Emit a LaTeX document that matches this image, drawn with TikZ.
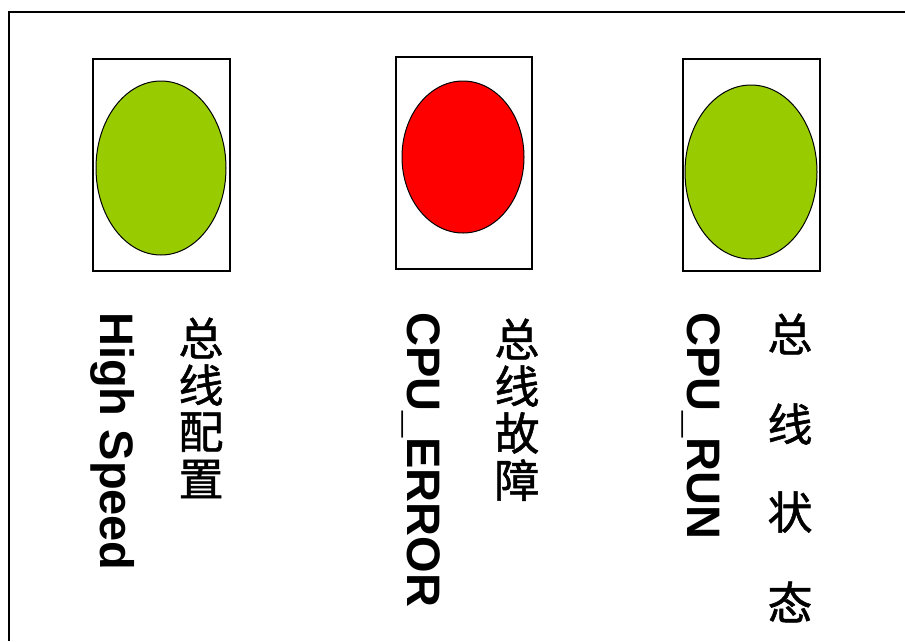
\documentclass[tikz,border=0pt]{standalone}
\usepackage{fontspec}
\setmainfont{Liberation Sans}
\newfontfamily\cjk[FakeBold=1.2]{Noto Sans CJK SC}
\usetikzlibrary{shapes.geometric}
\usetikzlibrary{positioning}
\definecolor{ledgreen}{HTML}{99CC00}
\definecolor{ledred}{HTML}{FF0000}
\tikzset{ledbox/.style={draw, line width=1.6pt, minimum width=137pt, minimum height=212pt, inner sep=0pt},
	led/.style={ellipse, draw, line width=1pt, inner sep=0pt},
	tag/.style={rotate=-90, anchor=base west, inner sep=0pt, font=\bfseries\fontsize{47}{47}\selectfont},
	hanzi/.style={inner sep=0pt, font=\cjk\fontsize{45}{45}\selectfont}}

\begin{document}
\begin{tikzpicture}[x=1pt, y=-1pt]
	\useasboundingbox (0, 0) rectangle (905, 641);
	\draw [line width=1.4pt] (9, 641) -- (9, 12) -- (905, 12);
	% lamps
	\node [ledbox] (box1) at (161.5, 165) {};
	\node [ledbox, minimum width=136pt] (box2) at (464, 163) {};
	\node [ledbox] (box3) at (751.5, 165) {};
	\node [led, fill=ledgreen, minimum width=130pt, minimum height=174pt] (lamp1) at (161, 168) {};
	\node [led, fill=ledred, minimum width=122pt, minimum height=152pt] (lamp2) at (463, 157) {};
	\node [led, fill=ledgreen, minimum width=132pt, minimum height=174pt] (lamp3) at (751, 172) {};
	% labels
	\node [tag] (speed) at (100, 312) {High Speed};
	\node [tag] (error) at (407, 312) {CPU\_ERROR};
	\node [tag] (run) at (687, 312) {CPU\_RUN};
	\node [hanzi] (a1) at (201, 338) {总};
	\node [hanzi] (a2) at (201, 385) {线};
	\node [hanzi] (a3) at (201, 432) {配};
	\node [hanzi] (a4) at (201, 479) {置};
	\node [hanzi] (b1) at (517, 339) {总};
	\node [hanzi] (b2) at (517, 386) {线};
	\node [hanzi] (b3) at (517, 433) {故};
	\node [hanzi] (b4) at (517, 480) {障};
	\node [hanzi] (c1) at (790, 334) {总};
	\node [hanzi] (c2) at (790, 424) {线};
	\node [hanzi] (c3) at (790, 512) {状};
	\node [hanzi] (c4) at (790, 602) {态};
\end{tikzpicture}
\end{document}
